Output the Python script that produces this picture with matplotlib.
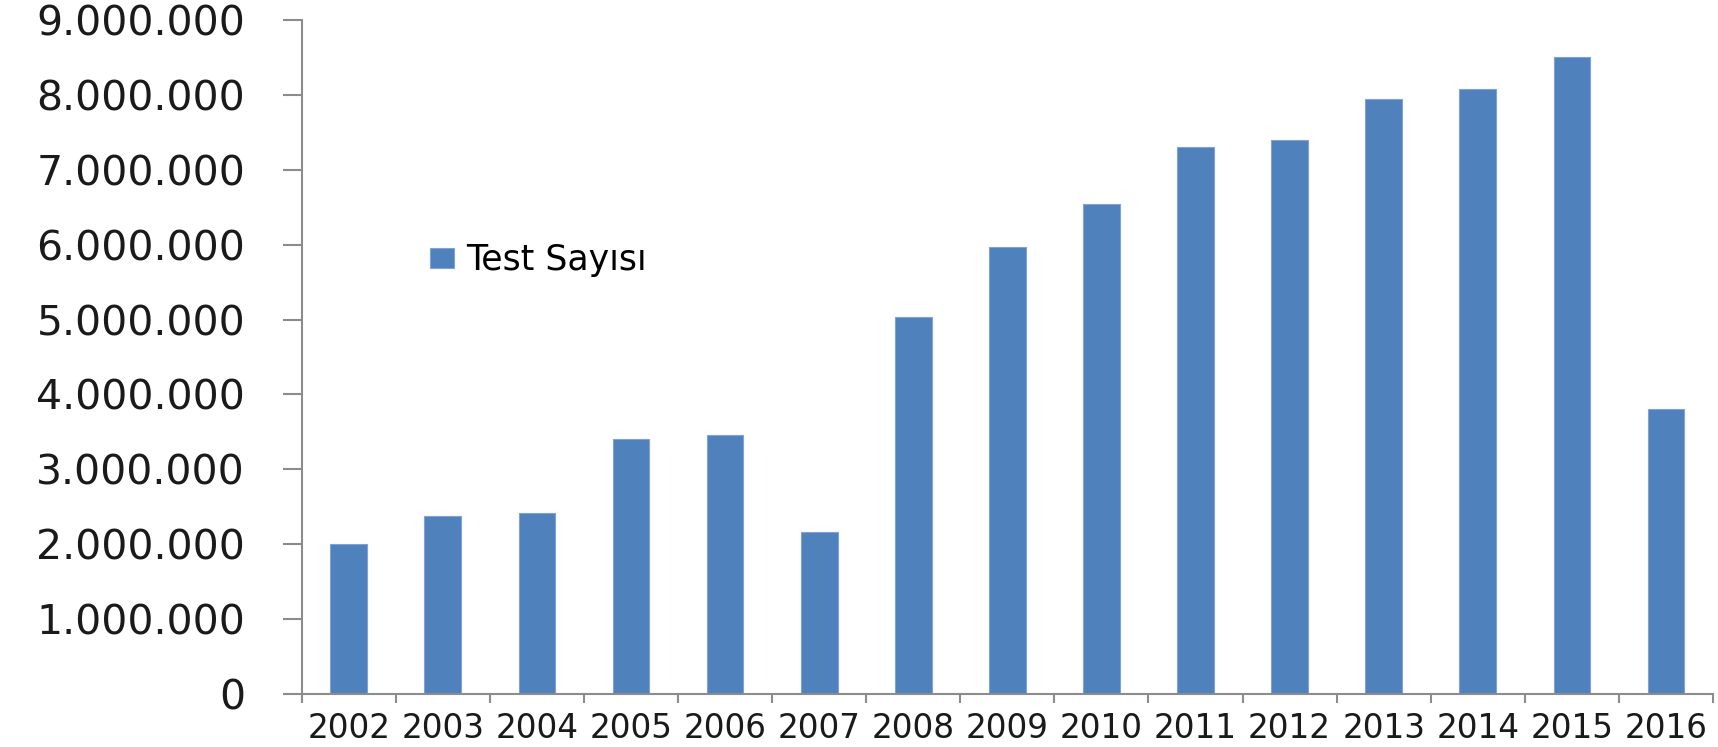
import matplotlib
matplotlib.use("Agg")
import matplotlib.pyplot as plt
from matplotlib.ticker import FuncFormatter, FixedLocator

# data
years = ["2002", "2003", "2004", "2005", "2006", "2007", "2008", "2009",
         "2010", "2011", "2012", "2013", "2014", "2015", "2016"]
test_sayisi = [2000000, 2380000, 2420000, 3400000, 3460000, 2160000, 5040000,
               5970000, 6540000, 7300000, 7400000, 7950000, 8080000, 8510000,
               3810000]
y_ticks = [0, 1000000, 2000000, 3000000, 4000000, 5000000, 6000000,
           7000000, 8000000, 9000000]
series_name = "Test Sayısı"

bar_color = "#4F81BD"
axis_color = "#8C8C8C"

fig = plt.figure(figsize=(17.18, 7.47), dpi=100)
ax = fig.add_axes([0.1756, 0.0710, 0.9971 - 0.1756, 0.9732 - 0.0710])

x = list(range(len(years)))
ax.bar(x, test_sayisi, width=0.39, color=bar_color, edgecolor="#7FA3D3",
       linewidth=0.8, label=series_name)

ax.set_xlim(-0.5, len(years) - 0.5)
ax.set_ylim(0, 9000000)

# y axis
ax.yaxis.set_major_locator(FixedLocator(y_ticks))
ax.yaxis.set_major_formatter(FuncFormatter(lambda v, p: f"{int(v):,}".replace(",", ".")))
ax.tick_params(axis="y", which="major", length=13.7, width=1.5, color=axis_color,
               pad=27, labelsize=29.5, labelcolor="#1a1a1a")

# x axis: ticks at category borders, labels at centres
ax.xaxis.set_major_locator(FixedLocator([i - 0.5 for i in range(len(years) + 1)]))
ax.xaxis.set_minor_locator(FixedLocator(x))
ax.set_xticklabels([], minor=False)
ax.set_xticklabels(years, minor=True)
ax.tick_params(axis="x", which="major", length=6.5, width=1.5, color=axis_color)
ax.tick_params(axis="x", which="minor", length=0, pad=13, labelsize=23.5,
               labelcolor="#1a1a1a")

for side in ["top", "right"]:
    ax.spines[side].set_visible(False)
for side in ["left", "bottom"]:
    ax.spines[side].set_color(axis_color)
    ax.spines[side].set_linewidth(1.5)

ax.legend(loc="center left", bbox_to_anchor=(0.2503, 0.652),
          bbox_transform=fig.transFigure, frameon=False, fontsize=25,
          handlelength=0.7, handleheight=0.5, handletextpad=0.35,
          borderpad=0, borderaxespad=0)

fig.savefig("out.png", dpi=100)
